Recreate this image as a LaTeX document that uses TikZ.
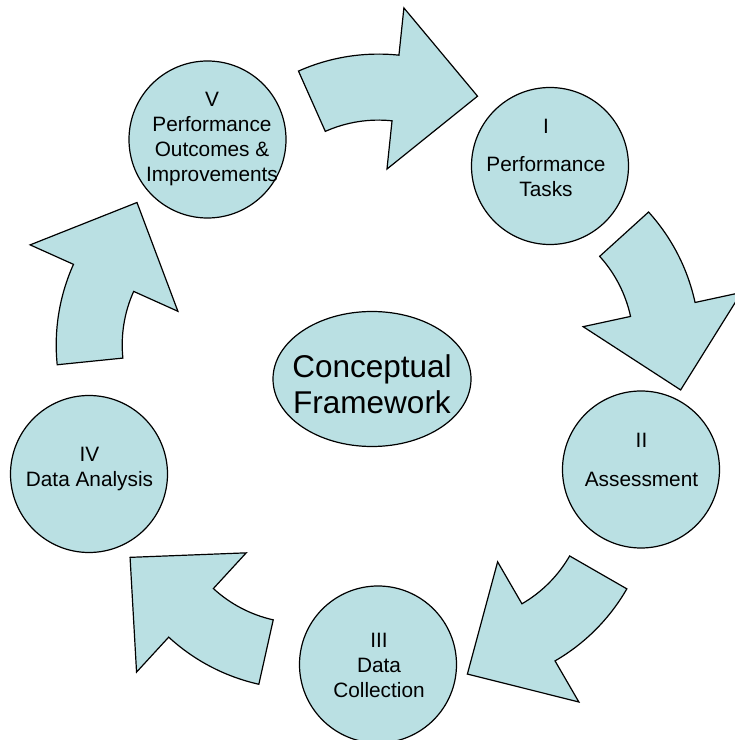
\documentclass[tikz,border=0pt]{standalone}
\usepackage{fontspec}
\setmainfont{Liberation Sans}
\usetikzlibrary{shapes.geometric}
\definecolor{cycfill}{RGB}{186,224,227}
\begin{document}
\begin{tikzpicture}[x=1pt,y=1pt,
  shapeline/.style={draw=black, line width=1.2pt, fill=cycfill, line join=miter},
  stage/.style={shapeline, circle, minimum size=157pt, inner sep=0pt},
  stagetext/.style={align=center, inner sep=0pt, font=\fontsize{20.8}{25}\selectfont},
  cycarrow/.pic={
    \path[shapeline] (30:130.5pt) -- (30:196.5pt)
      arc[start angle=30, end angle=0, radius=196.5pt]
      -- (0:244pt) -- (-26.7:183.5pt) -- (0:82pt) -- (0:130.5pt)
      arc[start angle=0, end angle=30, radius=130.5pt] -- cycle;
  }]
\useasboundingbox (0,0) rectangle (735,740);

% block arrows
\pic[rotate=84]    at (378.4,489.4) {cycarrow};
\pic[rotate=12.2]  at (503,396)     {cycarrow};
\pic[rotate=-59.9] at (456.5,249.1) {cycarrow};
\pic[rotate=-132.6] at (301.7,247.5) {cycarrow};
\pic[rotate=155.8] at (252.7,395.1) {cycarrow};

% stages
\node[stage] (s5) at (207.5,600.5) {};
\node[stage] (s1) at (550,574) {};
\node[stage] (s2) at (641,270.5) {};
\node[stage] (s3) at (378,75.5) {};
\node[stage] (s4) at (89,266) {};
\node[shapeline, ellipse, minimum width=198pt, minimum height=135pt, inner sep=0pt] (cf) at (372,361) {};

% texts
\node[stagetext] (t5) at (212,600.5) {V\\Performance\\Outcomes \&\\Improvements};
\node[stagetext] (t1) at (546,582) {I\\[13pt]Performance\\Tasks};
\node[stagetext] (t2) at (641.5,280) {II\\[14pt]Assessment};
\node[stagetext] (t3) at (379,75) {III\\Data\\Collection};
\node[stagetext] (t4) at (89.5,270.5) {IV\\Data Analysis};
\node[align=center, inner sep=0pt, font=\fontsize{31.5}{36.5}\selectfont] (tc) at (372,356) {Conceptual\\Framework};
\end{tikzpicture}
\end{document}
